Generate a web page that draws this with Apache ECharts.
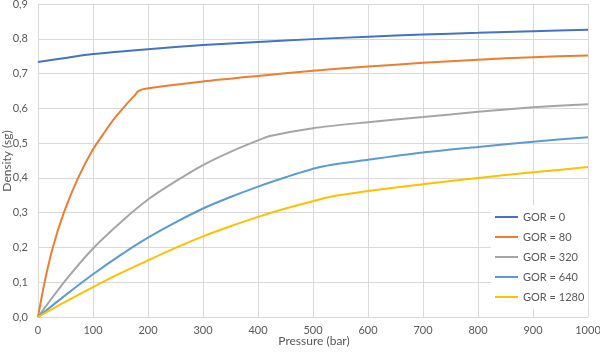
<!DOCTYPE html>
<html>
<head>
<meta charset="utf-8">
<script src="https://cdn.jsdelivr.net/npm/echarts@6/dist/echarts.min.js"></script>
<style>
  html, body { margin: 0; padding: 0; background: #fff; }
  #chart { width: 600px; height: 353px; }
</style>
</head>
<body>
<div id="chart"></div>
<script>
// pressure (bar) and density (sg) per GOR curve
var gor0P = [0, 50, 100, 200, 300, 400, 500, 600, 700, 800, 900, 1000];
var gor0D = [0.733, 0.745, 0.756, 0.770, 0.782, 0.791, 0.799, 0.806, 0.812, 0.817, 0.822, 0.826];

var gor80P = [0, 12, 27, 47, 73, 100, 120, 140, 160, 175, 183, 195, 300, 400, 500, 600, 700, 800, 900, 1000];
var gor80D = [0, 0.1, 0.2, 0.3, 0.4, 0.482, 0.529, 0.573, 0.61, 0.636, 0.65, 0.656, 0.677, 0.693, 0.708, 0.72, 0.731, 0.74, 0.747, 0.752];

var gor320P = [0, 50, 100, 150, 200, 250, 300, 350, 400, 424, 500, 600, 700, 800, 900, 1000];
var gor320D = [0, 0.105, 0.197, 0.272, 0.338, 0.39, 0.437, 0.475, 0.508, 0.521, 0.543, 0.56, 0.575, 0.59, 0.603, 0.612];

var gor640P = [0, 50, 100, 150, 200, 250, 300, 350, 400, 450, 515, 600, 700, 800, 900, 1000];
var gor640D = [0, 0.063, 0.123, 0.178, 0.228, 0.272, 0.312, 0.345, 0.375, 0.402, 0.432, 0.452, 0.473, 0.489, 0.504, 0.517];

var gor1280P = [0, 50, 100, 150, 200, 250, 300, 350, 400, 450, 500, 530, 600, 700, 800, 900, 1000];
var gor1280D = [0, 0.044, 0.086, 0.126, 0.163, 0.199, 0.232, 0.261, 0.288, 0.312, 0.333, 0.345, 0.362, 0.382, 0.4, 0.416, 0.431];

var names = ['GOR = 0', 'GOR = 80', 'GOR = 320', 'GOR = 640', 'GOR = 1280'];
var colors = ['#4472C4', '#ED7D31', '#A5A5A5', '#5B9BD5', '#FFC000'];
var curves = [
  [gor0P, gor0D],
  [gor80P, gor80D],
  [gor320P, gor320D],
  [gor640P, gor640D],
  [gor1280P, gor1280D]
];

function pairs(p, d) {
  return p.map(function (x, i) { return [x, d[i]]; });
}

var font = 'Lato, "Open Sans", sans-serif';
var grey = '#595959';

var chart = echarts.init(document.getElementById('chart'), null, { renderer: 'canvas' });
chart.setOption({
  animation: false,
  textStyle: { fontFamily: font },
  grid: { left: 38, right: 12, top: 4, bottom: 36, outerBoundsMode: 'none', containLabel: false },
  // axis titles
  graphic: [
    {
      type: 'text',
      x: 7, y: 161,
      rotation: Math.PI / 2,
      style: { text: 'Density (sg)', fill: grey, font: '12px ' + font, align: 'center', verticalAlign: 'middle' }
    },
    {
      type: 'text',
      x: 314, y: 341,
      style: { text: 'Pressure (bar)', fill: grey, font: '12px ' + font, align: 'center', verticalAlign: 'middle' }
    }
  ],
  legend: {
    orient: 'vertical',
    left: 491,
    top: 205,
    padding: [5, 4, 5, 4],
    backgroundColor: '#fff',
    itemWidth: 23,
    itemHeight: 2,
    itemGap: 6,
    icon: 'rect',
    data: names,
    textStyle: { color: grey, fontSize: 11, lineHeight: 14, fontFamily: font }
  },
  xAxis: {
    type: 'value',
    min: 0,
    max: 1000,
    interval: 100,
    axisLine: { show: true, lineStyle: { color: '#D9D9D9', width: 1 } },
    axisTick: { show: false },
    axisLabel: {
      color: grey, fontSize: 11, margin: 8,
      formatter: function (v) { return String(v); }
    },
    splitLine: { show: true, lineStyle: { color: '#D9D9D9', width: 1 } }
  },
  yAxis: {
    type: 'value',
    min: 0,
    max: 0.9,
    interval: 0.1,
    axisLine: { show: true, lineStyle: { color: '#D9D9D9', width: 1 } },
    axisTick: { show: false },
    axisLabel: {
      color: grey, fontSize: 11, margin: 10,
      formatter: function (v) { return v.toFixed(1).replace('.', ','); }
    },
    splitLine: { show: true, lineStyle: { color: '#D9D9D9', width: 1 } }
  },
  series: curves.map(function (c, i) {
    return {
      name: names[i],
      type: 'line',
      data: pairs(c[0], c[1]),
      symbol: 'none',
      smooth: 0.25,
      color: colors[i],
      lineStyle: { width: 2, color: colors[i] }
    };
  })
});
</script>
</body>
</html>
